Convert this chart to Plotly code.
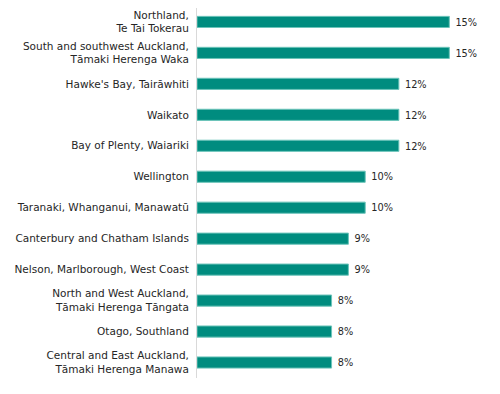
import plotly.graph_objects as go

regions = [
    "Northland,<br>Te Tai Tokerau",
    "South and southwest Auckland,<br>Tāmaki Herenga Waka",
    "Hawke's Bay, Tairāwhiti",
    "Waikato",
    "Bay of Plenty, Waiariki",
    "Wellington",
    "Taranaki, Whanganui, Manawatū",
    "Canterbury and Chatham Islands",
    "Nelson, Marlborough, West Coast",
    "North and West Auckland,<br>Tāmaki Herenga Tāngata",
    "Otago, Southland",
    "Central and East Auckland,<br>Tāmaki Herenga Manawa",
]
percent = [15, 15, 12, 12, 12, 10, 10, 9, 9, 8, 8, 8]

fig = go.Figure(
    go.Bar(
        x=percent,
        y=regions,
        orientation="h",
        width=0.36,
        marker=dict(color="#008C7F", line=dict(color="#6CC4BA", width=1)),
        text=[f"\u00a0{v}%" for v in percent],
        textposition="outside",
        textfont=dict(family="DejaVu Sans", size=10.5, color="#262626"),
        cliponaxis=False,
    )
)

fig.update_layout(
    width=500,
    height=394,
    margin=dict(l=189, r=20, t=0, b=24, autoexpand=False),
    paper_bgcolor="white",
    plot_bgcolor="white",
    showlegend=False,
    font=dict(family="DejaVu Sans", size=10.5, color="#262626"),
    xaxis=dict(range=[0, 17.3], visible=False, automargin=False),
    yaxis=dict(
        range=[11.5, -0.45],
        automargin=False,
        showline=True,
        linecolor="#D9D9D9",
        linewidth=1,
        showgrid=False,
        ticks="",
        ticklabelstandoff=5,
        tickfont=dict(family="DejaVu Sans", size=10.5, color="#262626"),
    ),
)

fig.write_html("out.html")
